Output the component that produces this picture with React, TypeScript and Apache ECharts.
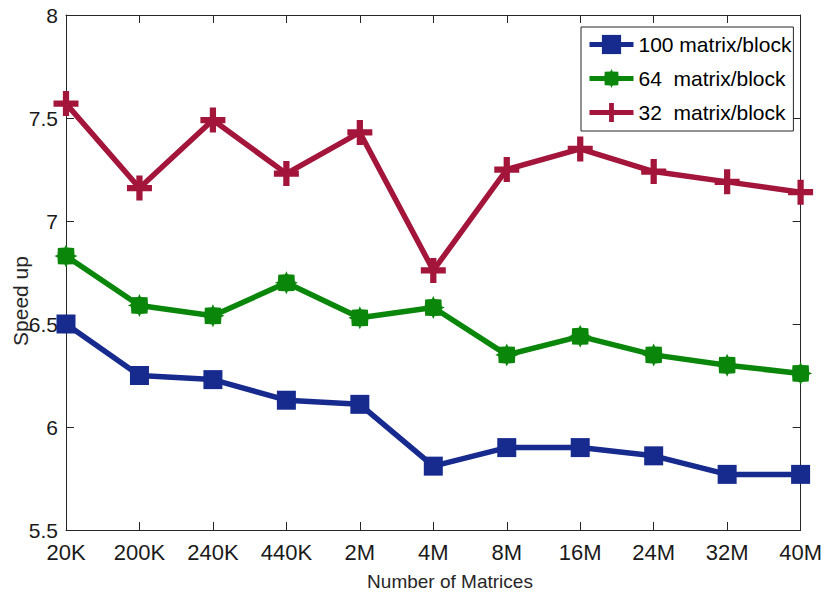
import React, { useEffect, useRef } from "react";
import * as echarts from "echarts";

const categories = ["20K", "200K", "240K", "440K", "2M", "4M", "8M", "16M", "24M", "32M", "40M"];
const seriesNames = ["100 matrix/block", "64  matrix/block", "32  matrix/block"];
const values100 = [6.5, 6.25, 6.23, 6.13, 6.11, 5.81, 5.9, 5.9, 5.86, 5.77, 5.77];
const values64 = [6.83, 6.59, 6.54, 6.7, 6.53, 6.58, 6.35, 6.44, 6.35, 6.3, 6.26];
const values32 = [7.57, 7.16, 7.49, 7.23, 7.43, 6.76, 7.25, 7.35, 7.24, 7.19, 7.14];
const yMin = 5.5;
const yMax = 8;
const yStep = 0.5;
const xTitle = "Number of Matrices";
const yTitle = "Speed up";

const colors = ["#172b8f", "#0a870a", "#a3153a"];

const starPath =
  "path://M20,10 L17.4,11.2 L17.07,17.07 L11.2,17.4 L10,20 L8.8,17.4 L2.93,17.07 L2.6,11.2 L0,10 L2.6,8.8 L2.93,2.93 L8.8,2.6 L10,0 L11.2,2.6 L17.07,2.93 L17.4,8.8 Z";
const plusPath = "path://M9,0 H15 V9 H24 V15 H15 V24 H9 V15 H0 V9 H9 Z";

const axisColor = "#262626";
const mainFont = "'Liberation Sans', Arial, sans-serif";

export default function App() {
  const ref = useRef<HTMLDivElement>(null);
  useEffect(() => {
    if (!ref.current) return;
    const chart = echarts.init(ref.current, undefined, { renderer: "svg" });
    const mk = (name: string, data: number[], color: string, symbol: string, size: number) => ({
      name,
      type: "line",
      data,
      symbol,
      symbolSize: size,
      showAllSymbol: true,
      lineStyle: { color, width: 5.5 },
      itemStyle: { color, borderWidth: 0 },
      emphasis: { disabled: true },
      z: 3,
    });
    const baseX = {
      type: "category",
      data: categories,
      boundaryGap: false,
      axisLine: { show: true, lineStyle: { color: axisColor, width: 1 } },
      axisTick: { show: true, inside: true, length: 8, interval: 0, lineStyle: { color: axisColor } },
      splitLine: { show: false },
    };
    const baseY = {
      type: "value",
      min: yMin,
      max: yMax,
      interval: yStep,
      axisLine: { show: true, lineStyle: { color: axisColor, width: 1 } },
      axisTick: { show: true, inside: true, length: 8, lineStyle: { color: axisColor } },
      splitLine: { show: false },
    };
    chart.setOption({
      animation: false,
      backgroundColor: "#ffffff",
      grid: { left: 66, right: 24, top: 15, bottom: 70 },
      xAxis: [
        {
          ...baseX,
          position: "bottom",
          axisLabel: { color: "#1a1a1a", fontSize: 22, fontFamily: mainFont, margin: 11, interval: 0, lineHeight: 22 },
        },
        { ...baseX, position: "top", axisLabel: { show: false } },
      ],
      yAxis: [
        {
          ...baseY,
          position: "left",
          axisLabel: { color: "#1a1a1a", fontSize: 21, fontFamily: mainFont, margin: 8, lineHeight: 18 },
        },
        { ...baseY, position: "right", axisLabel: { show: false } },
      ],
      legend: {
        orient: "vertical",
        left: 581,
        top: 27,
        padding: [7, 2, 8, 6],
        itemGap: 13,
        itemWidth: 44,
        itemHeight: 24,
        backgroundColor: "#ffffff",
        borderColor: axisColor,
        borderWidth: 1,
        lineStyle: { width: 5 },
        textStyle: { color: "#000000", fontSize: 21, fontFamily: mainFont },
        data: seriesNames,
      },
      graphic: [
        {
          type: "text",
          x: 20,
          y: 301,
          rotation: Math.PI / 2,
          style: {
            text: yTitle,
            fontSize: 21,
            fontFamily: mainFont,
            fill: "#262626",
            align: "center",
            verticalAlign: "middle",
          },
        },
        {
          type: "text",
          x: 450,
          y: 581,
          style: {
            text: xTitle,
            fontSize: 19,
            fontFamily: mainFont,
            fill: "#262626",
            align: "center",
            verticalAlign: "middle",
          },
        },
      ],
      series: [
        mk(seriesNames[0], values100, colors[0], "rect", 19),
        mk(seriesNames[1], values64, colors[1], starPath, 23),
        mk(seriesNames[2], values32, colors[2], plusPath, 25),
      ],
    });
    return () => chart.dispose();
  }, []);
  return <div ref={ref} style={{ width: 825, height: 600, position: "absolute", left: 0, top: 0 }} />;
}
